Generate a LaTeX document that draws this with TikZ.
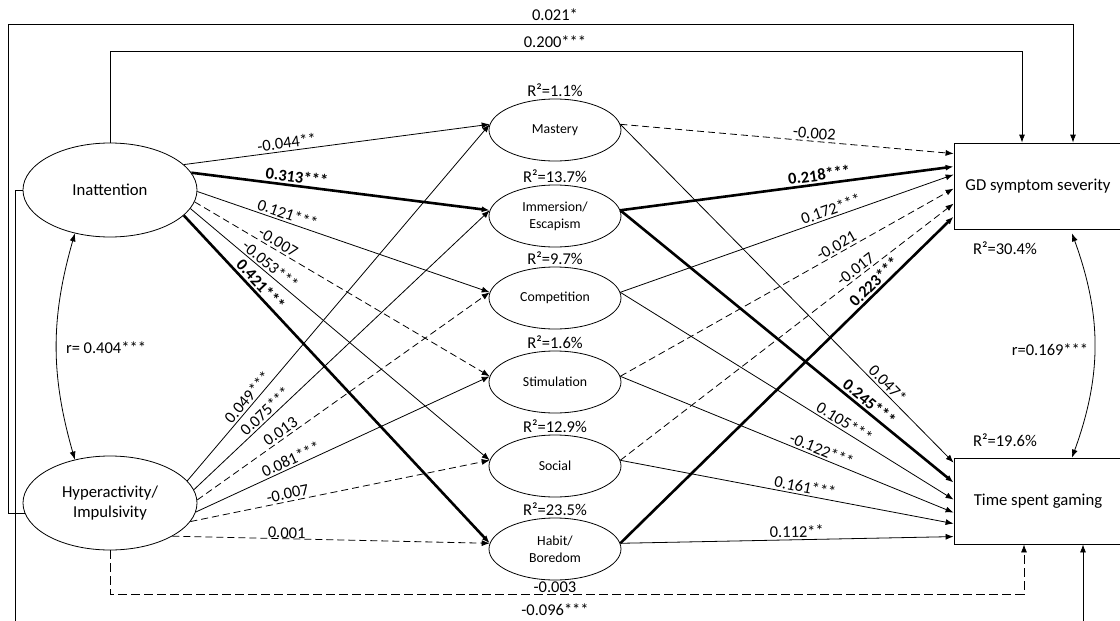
\documentclass[tikz,border=0pt]{standalone}
\usepackage{fontspec}
\setmainfont{Carlito}
\usetikzlibrary{shapes.geometric,arrows.meta}

\begin{document}
\begin{tikzpicture}[x=1pt,y=-1pt,
        every node/.style={font=\fontsize{16.5}{20}\selectfont},
        factor/.style={draw,ellipse,line width=0.8pt,minimum width=174pt,minimum height=94pt,align=center,font=\fontsize{16.7}{20}\selectfont},
        motive/.style={draw,ellipse,line width=0.8pt,minimum width=132pt,minimum height=62pt,align=center,font=\fontsize{13.8}{17}\selectfont},
        outcome/.style={draw,rectangle,line width=0.8pt,minimum width=168pt,minimum height=86pt,font=\fontsize{16.7}{20}\selectfont},
        eff/.style={line width=0.8pt,-{Latex[length=8pt,width=6pt]}},
        nseff/.style={eff,dash pattern=on 7pt off 4pt},
        sigeff/.style={eff,line width=2.6pt},
        corr/.style={line width=0.8pt,{Latex[length=8pt,width=6pt]}-{Latex[length=8pt,width=6pt]}},
        coef/.style={sloped,above,inner sep=2pt},
        sigcoef/.style={coef,font=\fontsize{16.5}{20}\selectfont\bfseries}]
        \useasboundingbox (0,0) rectangle (1120,621);
        \clip (0,0) rectangle (1120,621);

        % ADHD factors on the left
        \node[factor] (inatt) at (110,190) {Inattention};
        \node[factor] (hyper) at (110,503) {Hyperactivity/\\Impulsivity};

        % gaming motives in the middle
        \foreach \name/\txt/\yy/\rsq in {mastery/Mastery/130/1.1,
                immersion/{Immersion/\\Escapism}/216/13.7,
                competition/Competition/298/9.7,
                stimulation/Stimulation/382/1.6,
                social/Social/466/12.9,
                habit/{Habit/\\Boredom}/549/23.5} {
            \node[motive] (\name) at (555,\yy) {\txt};
            \node[above,inner sep=2pt] (\name-r2) at (\name.north) {R²=\rsq\%};
        }

        % outcomes on the right
        \node[outcome] (gd) at (1038,186) {GD symptom severity};
        \node[outcome] (time) at (1038,501) {Time spent gaming};
        \node (gd-r2) at (1005,248) {R²=30.4\%};
        \node (time-r2) at (1005,440) {R²=19.6\%};

        % Inattention -> motives
        \draw[eff] (inatt.19) -- node[coef,pos=0.34] {-0.044**} (mastery.175);
        \draw[sigeff] (inatt.12) -- node[sigcoef,pos=0.35] {0.313***} (immersion.175);
        \draw[eff] (inatt.-1) -- node[coef,pos=0.30] {0.121***} (competition.175);
        \draw[nseff] (inatt.-8) -- node[coef,pos=0.27] {-0.007} (stimulation.175);
        \draw[eff] (inatt.-13) -- node[coef,pos=0.25] {-0.053***} (social.175);
        \draw[sigeff] (inatt.-19) -- node[sigcoef,pos=0.23] {0.421***} (habit.175);

        % Hyperactivity -> motives
        \draw[eff] (hyper.16) -- node[coef,pos=0.22] {0.049***} (mastery.175);
        \draw[eff] (hyper.9) -- node[coef,pos=0.26] {0.075***} (immersion.175);
        \draw[nseff] (hyper.2) -- node[coef,pos=0.30] {0.013} (competition.175);
        \draw[eff] (hyper.-6) -- node[coef,pos=0.335] {0.081***} (stimulation.175);
        \draw[nseff] (hyper.-13) -- node[coef,pos=0.33] {-0.007} (social.175);
        \draw[nseff] (hyper.-28) -- node[coef,pos=0.36,inner sep=0pt] {0.001} (habit.175);

        % motives -> GD symptom severity
        \draw[nseff] (mastery.5) -- node[coef,pos=0.58] {-0.002} ([yshift=-11pt]gd.north west);
        \draw[sigeff] (immersion.5) -- node[sigcoef,pos=0.60] {0.218***} ([yshift=-24pt]gd.north west);
        \draw[eff] (competition.5) -- node[coef,pos=0.64] {0.172***} ([yshift=-32pt]gd.north west);
        \draw[nseff] (stimulation.5) -- node[coef,pos=0.66] {-0.021} ([yshift=-46pt]gd.north west);
        \draw[nseff] (social.5) -- node[coef,pos=0.72] {-0.017} ([yshift=-61pt]gd.north west);
        \draw[sigeff] (habit.5) -- node[sigcoef,pos=0.78] {0.223***} ([yshift=-74pt]gd.north west);

        % motives -> time spent gaming
        \draw[eff] (mastery.5) -- node[coef,pos=0.785] {0.047*} ([yshift=-5pt]time.north west);
        \draw[sigeff] (immersion.5) -- node[sigcoef,pos=0.73] {0.245***} ([yshift=-25pt]time.north west);
        \draw[eff] (competition.5) -- node[coef,pos=0.66] {0.105***} ([yshift=-42pt]time.north west);
        \draw[eff] (stimulation.5) -- node[coef,pos=0.595] {-0.122***} ([yshift=-55pt]time.north west);
        \draw[eff] (social.5) -- node[coef,pos=0.55] {0.161***} ([yshift=-66pt]time.north west);
        \draw[eff] (habit.5) -- node[coef,pos=0.53] {0.112**} ([yshift=-79pt]time.north west);

        % direct paths round the outside
        \draw[eff] (hyper.187) -| (8,24) -| ([xshift=35pt]gd.north);
        \node (hyper-gd) at (555,15) {0.021*};
        \draw[eff] (inatt.north) |- (1022,51) -- ([xshift=-16pt]gd.north);
        \node (inatt-gd) at (555,42) {0.200***};
        \draw[nseff,dash pattern=on 9pt off 4pt] (hyper.south) |- (1024,594) -- ([xshift=-14pt]time.south);
        \node (hyper-time) at (555,587) {-0.003};
        \draw[eff] (inatt.180) -| (15,640) -| ([xshift=45pt]time.south);
        \node (inatt-time) at (555,610) {-0.096***};

        % correlations
        \draw[corr] (inatt.231) to[bend right=16] (hyper.129);
        \node (r-adhd) at (106,348) {r= 0.404***};
        \draw[corr] ([xshift=34pt,yshift=-4pt]gd.south) to[bend left=20] ([xshift=34pt]time.north);
        \node (r-out) at (1050,350) {r=0.169***};
\end{tikzpicture}
\end{document}
